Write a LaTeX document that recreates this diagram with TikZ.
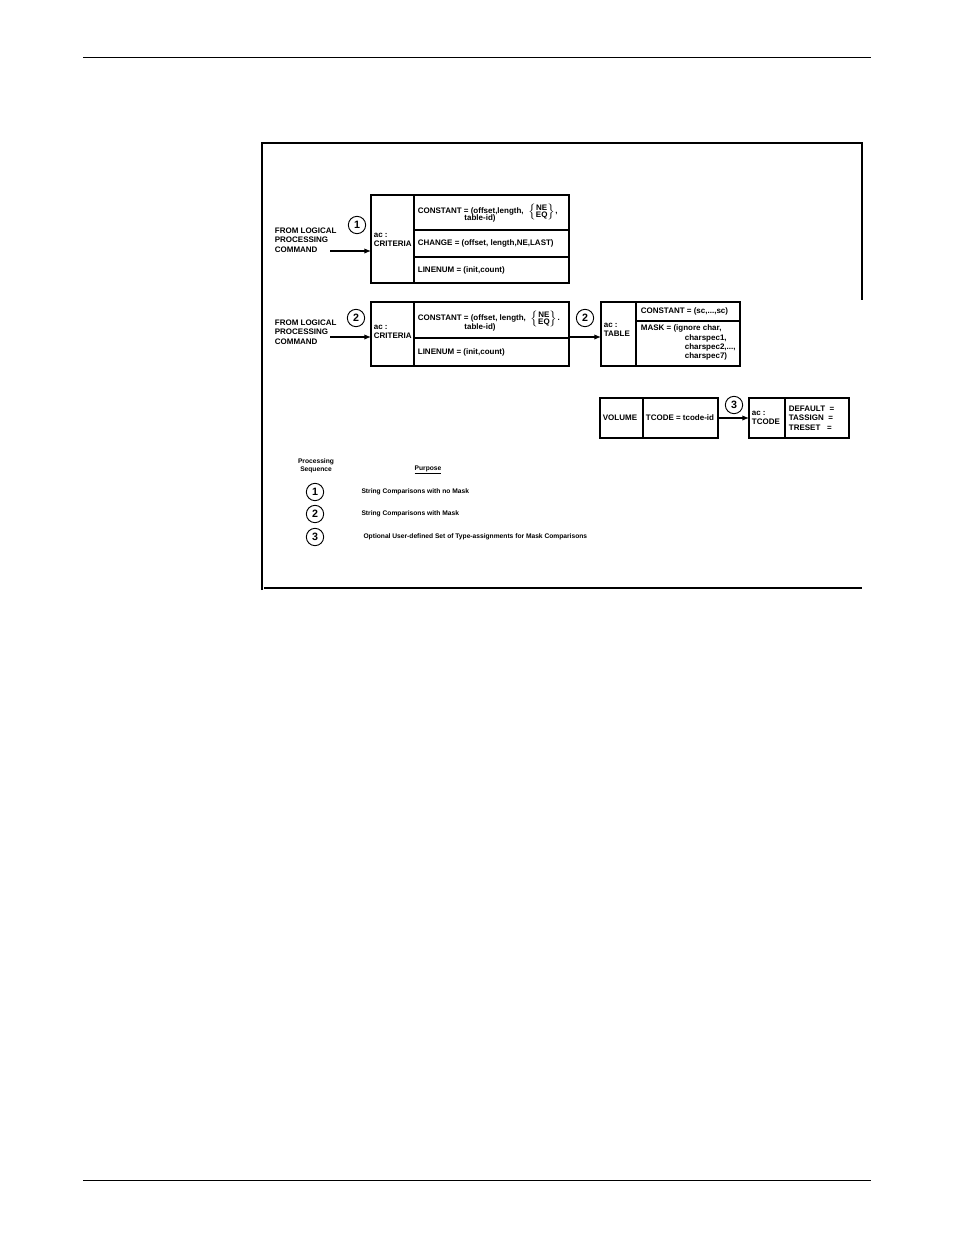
\documentclass[tikz,border=0pt]{standalone}
\usepackage{fontspec}
\setmainfont{Liberation Sans}
\usetikzlibrary{arrows.meta}
\newcommand\neeq{$\left\{\begin{tabular}{@{}c@{}}NE\\[-2pt]EQ\end{tabular}\right\}$}
\begin{document}
\begin{tikzpicture}[x=0.75pt,y=-0.75pt,line width=0.8pt,
  lbl/.style={font=\fontsize{6}{7}\selectfont\bfseries,inner sep=1pt},
  lbltop/.style={lbl,anchor=north west,align=left},
  leg/.style={font=\fontsize{5}{6}\selectfont\bfseries,inner sep=0pt,anchor=west},
  seqmark/.style={draw,circle,line width=0.7pt,minimum size=13pt,inner sep=0pt,font=\fontsize{8}{8}\selectfont\bfseries},
  feed/.style={-{Latex[length=5pt,width=4pt]}}]
\useasboundingbox (0,0) rectangle (954,1235);
% page rules and frame
\draw[line width=0.5pt] (83,57) -- (871,57);
\draw[line width=0.5pt] (83,1180) -- (871,1180);
\draw (262,590) -- (262,143) -- (862,143) -- (862,300);
\draw (264,588) -- (862,588);
% first criteria box
\draw (371,195) rectangle (569,283);
\draw (414,195) -- (414,283) (414,230) -- (569,230) (414,257) -- (569,257);
\node[lbl,anchor=west,align=left] (crit1) at (414,240) {};
\node[lbl,anchor=west,align=left] at (372,240) {ac :\\CRITERIA};
\node[lbl,anchor=north west] (const1) at (416,202) {CONSTANT = (offset,length,\ \ \neeq,};
\node[lbl] at (480,218) {table-id)};
\node[lbl,anchor=west] (chg1) at (416,243) {CHANGE = (offset, length,NE,LAST)};
\node[lbl,anchor=west] (lin1) at (416,270) {LINENUM = (init,count)};
\node[lbl,align=left,anchor=west] (from1) at (273,240) {FROM LOGICAL\\PROCESSING\\COMMAND};
\coordinate (in1) at (330,251);
\draw[feed] (in1) -- (371,251);
\node[seqmark] (s1) at (357,225) {1};
% second criteria box
\draw (371,302) rectangle (569,366);
\draw (414,302) -- (414,366) (414,338) -- (569,338);
\node[lbl,anchor=west,align=left] at (372,332) {ac :\\CRITERIA};
\node[lbl,anchor=north west] (const2) at (416,309) {CONSTANT = (offset, length,\ \ \neeq.};
\node[lbl] at (480,327) {table-id)};
\node[lbl,anchor=west] (lin2) at (416,352) {LINENUM = (init,count)};
\node[lbl,align=left,anchor=west] (from2) at (273,332) {FROM LOGICAL\\PROCESSING\\COMMAND};
\coordinate (in2) at (330,337);
\draw[feed] (in2) -- (371,337);
\node[seqmark] (s2) at (356,318) {2};
% table box
\draw (601,302) rectangle (740,366);
\draw (636,302) -- (636,366) (636,321) -- (740,321);
\node[lbl,anchor=west,align=left] at (602,330) {ac :\\TABLE};
\node[lbl,anchor=west] (tconst) at (639,311) {CONSTANT = (sc,...,sc)};
\node[lbl,anchor=north west,align=left] (mask) at (639,323) {MASK = (ignore char,\\\hspace{33pt}charspec1,\\\hspace{33pt}charspec2,...,\\\hspace{33pt}charspec7)};
\draw[feed] (569,337) -- (601,337);
\node[seqmark] (s2b) at (585,318) {2};
% volume and tcode
\draw (600,398) rectangle (718,438);
\draw (643,398) -- (643,438);
\node[lbl,anchor=west] (vol) at (601,418) {VOLUME};
\node[lbl,anchor=west] (tc) at (644,418) {TCODE = tcode-id};
\draw (749,398) rectangle (849,438);
\draw (785,398) -- (785,438);
\node[lbl,anchor=west,align=left] at (750,418) {ac :\\TCODE};
\node[lbl,anchor=west,align=left] (dflt) at (787,418) {DEFAULT \ =\\TASSIGN \ =\\TRESET \ \ =};
\draw[feed] (718,418) -- (749,418);
\node[seqmark] (s3) at (734,405) {3};
% legend
\node[leg,anchor=center,align=center] (seqhd) at (316,466) {Processing\\Sequence};
\node[leg,anchor=center] (purp) at (428,470) {\underline{Purpose}};
\node[seqmark] (l1) at (315,492) {1};
\node[seqmark] (l2) at (315,514) {2};
\node[seqmark] (l3) at (315,537) {3};
\node[leg] (t1) at (361,492) {String Comparisons with no Mask};
\node[leg] (t2) at (361,514) {String Comparisons with Mask};
\node[leg] (t3) at (363,537) {Optional User-defined Set of Type-assignments for Mask Comparisons};
\end{tikzpicture}
\end{document}
